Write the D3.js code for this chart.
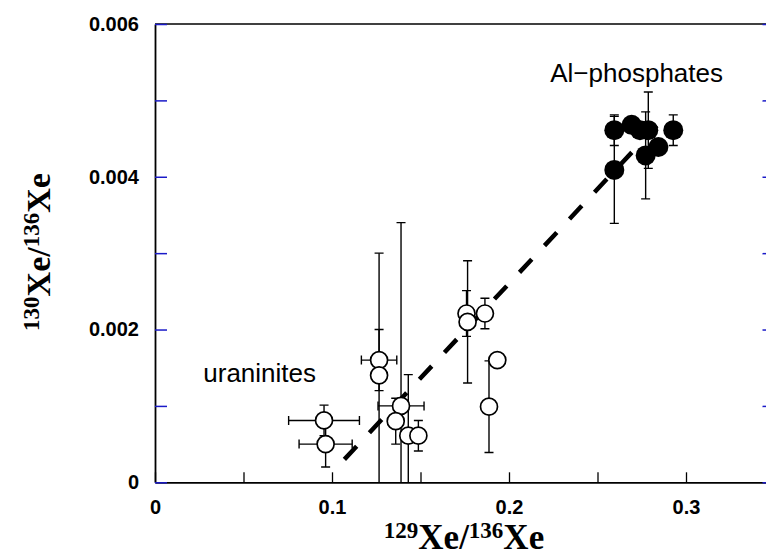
<!DOCTYPE html>
<html>
<head>
<meta charset="utf-8">
<script src="https://cdn.jsdelivr.net/npm/d3@7/dist/d3.min.js"></script>
<style>
body { margin: 0; background: #fff; }
</style>
</head>
<body>
<div id="chart"></div>
<script>
// uraninites (open symbols)
var uraX    = [0.0955, 0.0964, 0.1266, 0.1266, 0.139, 0.136, 0.1431, 0.1488, 0.1760, 0.1766, 0.1864, 0.1934, 0.1887];
var uraY    = [0.00081, 0.00050, 0.0016, 0.0014, 0.0010, 0.00080, 0.00061, 0.00061, 0.00221, 0.0021, 0.00221, 0.0016, 0.00099];
var uraErrX = [0.020, 0.015, 0.010, 0, 0.013, 0, 0, 0, 0, 0, 0, 0, 0];
var uraErrY = [0.0002, 0.0003, 0.0004, 0.0016, 0.0024, 0.0003, 0.0008, 0.0002, 0.0003, 0.0008, 0.0002, 0, 0.0006];

// Al-phosphates (filled symbols)
var phosX    = [0.2595, 0.2595, 0.2693, 0.2740, 0.2787, 0.2772, 0.2844, 0.2928];
var phosY    = [0.00461, 0.00409, 0.00468, 0.00461, 0.00461, 0.00428, 0.00439, 0.00461];
var phosErrY = [0.0002, 0.0007, 0, 0, 0.0005, 0.00057, 0, 0.0002];

// dashed trend line
var trendX = [0.107, 0.288];
var trendY = [0.0003, 0.00478];

var xTickVals = d3.range(0, 0.351, 0.05);
var yTickVals = d3.range(0, 0.00601, 0.001);
var xLabels = ["0", "0.1", "0.2", "0.3"];
var yLabels = ["0", "0.002", "0.004", "0.006"];

var W = 766, H = 558;
var m = {left: 155, top: 24, right: 774.5, bottom: 482.3};
var blue = "#1a1ac8";

var svg = d3.select("#chart").append("svg")
    .attr("width", W).attr("height", H)
    .style("font-family", "'Liberation Sans', Arial, sans-serif");

var x = d3.scaleLinear().domain([0, 0.35]).range([m.left, m.right]);
var y = d3.scaleLinear().domain([0, 0.006]).range([m.bottom, m.top]);

svg.append("clipPath").attr("id", "plotclip").append("rect")
    .attr("x", m.left).attr("y", m.top)
    .attr("width", m.right - m.left).attr("height", m.bottom - m.top);

// frame: top line
svg.append("line")
    .attr("x1", m.left).attr("x2", m.right).attr("y1", m.top).attr("y2", m.top)
    .attr("stroke", "#000").attr("stroke-width", 1.5);

function fmtX(d) {
    var i = Math.round(d * 20);
    return i % 2 === 0 ? xLabels[i / 2] : "";
}
function fmtY(d) {
    var i = Math.round(d * 1000);
    return i % 2 === 0 ? yLabels[i / 2] : "";
}

var gx = svg.append("g").attr("transform", "translate(0," + m.bottom + ")")
    .call(d3.axisBottom(x).tickValues(xTickVals).tickSizeInner(-10).tickSizeOuter(0)
        .tickPadding(18).tickFormat(fmtX));
var gy = svg.append("g").attr("transform", "translate(" + m.left + ",0)")
    .call(d3.axisLeft(y).tickValues(yTickVals).tickSizeInner(-12).tickSizeOuter(0)
        .tickPadding(16).tickFormat(fmtY));
var gr = svg.append("g").attr("transform", "translate(" + m.right + ",0)")
    .call(d3.axisRight(y).tickValues(yTickVals).tickSizeInner(-12).tickSizeOuter(0)
        .tickFormat(""));

[gx, gy, gr].forEach(function(g) {
    g.select(".domain").attr("stroke", "#000").attr("stroke-width", 1.8);
    g.selectAll("text").attr("fill", "#000")
        .style("font-size", "20px").style("font-weight", "bold")
        .style("font-family", "'Liberation Sans', Arial, sans-serif");
});
gx.selectAll(".tick line").attr("stroke", "#000").attr("stroke-width", 1.3);
gy.selectAll(".tick line").attr("stroke", blue).attr("stroke-width", 1.5);
gr.selectAll(".tick line").attr("stroke", blue).attr("stroke-width", 1.5);

var plot = svg.append("g").attr("clip-path", "url(#plotclip)");

// trend line
plot.append("line")
    .attr("x1", x(trendX[0])).attr("y1", y(trendY[0]))
    .attr("x2", x(trendX[1])).attr("y2", y(trendY[1]))
    .attr("stroke", "#000").attr("stroke-width", 4.5)
    .attr("stroke-dasharray", "18,18.6");

// error bars
function errBars(xs, ys, ex, ey) {
    var cap = 4.5;
    var bars = plot.append("g").attr("stroke", "#000").attr("stroke-width", 1.4);
    xs.forEach(function(d, i) {
        if (ey[i] > 0) {
            var yt = y(ys[i] + ey[i]), yb = y(ys[i] - ey[i]);
            bars.append("line").attr("x1", x(d)).attr("x2", x(d)).attr("y1", yt).attr("y2", yb);
            bars.append("line").attr("x1", x(d) - cap).attr("x2", x(d) + cap).attr("y1", yt).attr("y2", yt);
            bars.append("line").attr("x1", x(d) - cap).attr("x2", x(d) + cap).attr("y1", yb).attr("y2", yb);
        }
        if (ex && ex[i] > 0) {
            var xl = x(d - ex[i]), xr = x(d + ex[i]), yc = y(ys[i]);
            bars.append("line").attr("x1", xl).attr("x2", xr).attr("y1", yc).attr("y2", yc);
            bars.append("line").attr("x1", xl).attr("x2", xl).attr("y1", yc - cap).attr("y2", yc + cap);
            bars.append("line").attr("x1", xr).attr("x2", xr).attr("y1", yc - cap).attr("y2", yc + cap);
        }
    });
}
errBars(uraX, uraY, uraErrX, uraErrY);
errBars(phosX, phosY, null, phosErrY);

// symbols
plot.selectAll("circle.ura").data(uraX).enter().append("circle")
    .attr("class", "ura")
    .attr("cx", function(d) { return x(d); })
    .attr("cy", function(d, i) { return y(uraY[i]); })
    .attr("r", 8.5)
    .attr("fill", "#fff").attr("stroke", "#000").attr("stroke-width", 1.7);

plot.selectAll("circle.phos").data(phosX).enter().append("circle")
    .attr("class", "phos")
    .attr("cx", function(d) { return x(d); })
    .attr("cy", function(d, i) { return y(phosY[i]); })
    .attr("r", 10)
    .attr("fill", "#000");

// group labels
svg.append("text").attr("x", 316).attr("y", 382).attr("text-anchor", "end")
    .style("font-size", "26px").text("uraninites");
svg.append("text").attr("x", 723).attr("y", 82).attr("text-anchor", "end")
    .style("font-size", "26px").text("Al\u2212phosphates");

// axis titles
function isoTitle(g, a, b) {
    var t = g.append("text").attr("text-anchor", "middle")
        .style("font-family", "'Liberation Serif', 'Times New Roman', serif")
        .style("font-weight", "bold").style("font-size", "35px");
    t.append("tspan").style("font-size", "23px").attr("dy", -11).text(a);
    t.append("tspan").attr("dy", 11).text("Xe/");
    t.append("tspan").style("font-size", "23px").attr("dy", -11).text(b);
    t.append("tspan").attr("dy", 11).text("Xe");
    return t;
}
isoTitle(svg.append("g").attr("transform", "translate(464,549)"), "129", "136");
isoTitle(svg.append("g").attr("transform", "translate(50,252) rotate(-90)"), "130", "136")
    .style("font-size", "34px");
</script>
</body>
</html>
